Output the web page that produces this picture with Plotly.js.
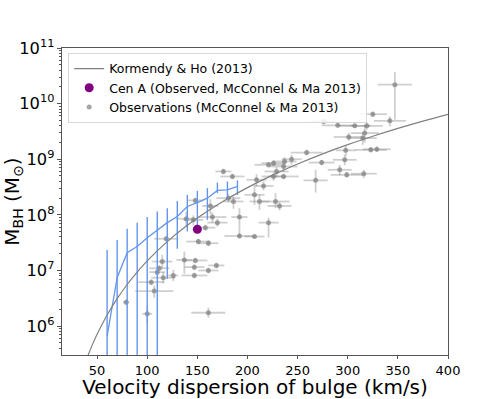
<!DOCTYPE html>
<html>
<head>
<meta charset="utf-8">
<script src="https://cdn.plot.ly/plotly-3.0.1.min.js"></script>
<style>
  html, body { margin: 0; padding: 0; background: #fff; }
  #myPlot { width: 498px; height: 399px; }
</style>
</head>
<body>
<div id="myPlot"></div>
<script>
// Kormendy & Ho (2013) relation
var khSigma = [40, 45, 50, 60, 70, 80, 90, 100, 120, 140, 160, 180, 200, 225, 250, 275, 300, 325, 350, 375, 400];
var khMass  = [2.69e5, 4.50e5, 7.13e5, 1.58e6, 3.11e6, 5.59e6, 9.35e6, 1.49e7, 3.30e7, 6.48e7, 1.16e8,
               1.95e8, 3.09e8, 5.18e8, 8.21e8, 1.25e9, 1.83e9, 2.59e9, 3.58e9, 4.85e9, 6.43e9];

// blue binned line with vertical error bars (log10 of mass)
var blueSigma = [60, 70, 80, 90, 100, 110, 120, 130, 140, 150, 160, 170, 180, 190];
var blueLogM  = [5.82, 6.87, 7.32, 7.43, 7.59, 7.73, 7.86, 7.97, 8.15, 8.22, 8.30, 8.44, 8.45, 8.51];
var blueLogHi = [7.37, 7.55, 7.75, 7.86, 7.96, 8.06, 8.12, 8.25, 8.36, 8.43, 8.48, 8.58, 8.60, 8.62];
var blueLogLo = [3, 3, 3, 3, 3, 3, 6.85, 7.39, 7.70, 7.72, 7.91, 8.39, 8.30, 8.36];

// Cen A
var cenSigma = [150];
var cenMass = [5.5e7];

// observations (McConnel & Ma 2013)
var obsSigma    = [347, 325, 342, 276, 290, 307, 319, 317, 301, 315, 323, 329, 298, 259, 297, 274, 244, 237, 226, 236,
                   229, 236, 226, 292, 299, 316, 268, 228, 232, 185, 176, 209, 216, 221, 207, 212, 181, 186, 148, 163,
                   165, 170, 139, 146, 192, 192, 221, 207, 119, 151, 161, 137, 148, 147, 169, 161, 147, 115, 112, 110,
                   116, 126, 104, 107, 79, 100, 161, 158];
var obsSigmaErr = [17, 14, 16, 13, 16, 16, 16, 14, 15, 14, 16, 14, 10, 16, 12, 13, 10, 12, 12, 14,
                   12, 15, 12, 12, 16, 13, 12, 14, 12, 12, 8, 10, 10, 14, 10, 10, 12, 10, 8, 8,
                   14, 10, 10, 10, 8, 15, 10, 10, 12, 12, 10, 8, 12, 10, 8, 10, 13, 10, 10, 8,
                   12, 5, 13, 19, 3, 5, 17, 10];
var obsLogM     = [10.34, 9.81, 9.69, 9.68, 9.61, 9.60, 9.60, 9.47, 9.40, 9.38, 9.17, 9.18, 9.16, 9.12, 8.99, 8.94, 9.00, 8.96, 8.93, 8.87,
                   8.78, 8.69, 8.69, 8.81, 8.72, 8.74, 8.62, 8.24, 8.16, 8.69, 8.78, 8.63, 8.52, 8.90, 8.36, 8.24, 8.30, 8.24, 8.26, 8.16,
                   7.96, 7.86, 7.93, 7.91, 7.96, 7.62, 7.86, 7.61, 7.57, 7.52, 7.49, 7.19, 7.18, 7.06, 7.09, 7.00, 6.91, 7.16, 7.04, 6.97,
                   6.87, 6.91, 6.79, 6.63, 6.43, 6.22, 6.24, 7.77];
var obsUpDex    = [0.23, 0.05, 0.08, 0.05, 0.04, 0.04, 0.07, 0.15, 0.07, 0.10, 0.05, 0.05, 0.08, 0.05, 0.09, 0.05, 0.08, 0.08, 0.05, 0.08,
                   0.08, 0.05, 0.07, 0.09, 0.05, 0.07, 0.19, 0.15, 0.07, 0.05, 0.05, 0.10, 0.08, 0.05, 0.15, 0.12, 0.07, 0.10, 0.05, 0.12,
                   0.08, 0.07, 0.12, 0.08, 0.16, 0.04, 0.09, 0.04, 0.05, 0.05, 0.05, 0.15, 0.05, 0.05, 0.05, 0.05, 0.05, 0.12, 0.05, 0.05,
                   0.10, 0.10, 0.05, 0.10, 0.05, 0.15, 0.09, 0.05];
var obsDnDex    = [0.63, 0.05, 0.10, 0.05, 0.04, 0.04, 0.07, 0.17, 0.07, 0.12, 0.05, 0.05, 0.10, 0.05, 0.10, 0.05, 0.10, 0.10, 0.05, 0.10,
                   0.10, 0.05, 0.08, 0.10, 0.05, 0.08, 0.22, 0.12, 0.08, 0.05, 0.05, 0.12, 0.08, 0.05, 0.18, 0.15, 0.07, 0.13, 0.05, 0.15,
                   0.10, 0.07, 0.15, 0.10, 0.35, 0.04, 0.27, 0.04, 0.05, 0.05, 0.05, 0.25, 0.05, 0.05, 0.05, 0.05, 0.05, 0.12, 0.05, 0.05,
                   0.10, 0.10, 0.05, 0.12, 0.05, 0.15, 0.09, 0.05];

function pow10(a){ return a.map(function(v){ return Math.pow(10, v); }); }

var blueM = pow10(blueLogM);
var blueUp = blueLogHi.map(function(v, i){ return Math.pow(10, v) - blueM[i]; });
var blueDn = blueLogLo.map(function(v, i){ return blueM[i] - Math.pow(10, v); });

var obsM = pow10(obsLogM);
var obsUp = obsUpDex.map(function(v, i){ return obsM[i] * (Math.pow(10, v) - 1); });
var obsDn = obsDnDex.map(function(v, i){ return obsM[i] * (1 - Math.pow(10, -v)); });

var data = [
  {
    x: obsSigma, y: obsM,
    name: "Observations (McConnel & Ma 2013)",
    type: "scatter", mode: "markers",
    legendrank: 3,
    marker: { color: "rgba(128,128,128,0.7)", size: 5 },
    error_x: { type: "data", array: obsSigmaErr, color: "rgba(128,128,128,0.38)", thickness: 1.8, width: 0 },
    error_y: { type: "data", symmetric: false, array: obsUp, arrayminus: obsDn,
               color: "rgba(128,128,128,0.38)", thickness: 1.8, width: 0 }
  },
  {
    x: blueSigma, y: blueM,
    type: "scatter", mode: "lines",
    showlegend: false,
    line: { color: "#6495ed", width: 1.3 },
    error_y: { type: "data", symmetric: false, array: blueUp, arrayminus: blueDn,
               color: "#6495ed", thickness: 1.4, width: 0 }
  },
  {
    x: khSigma, y: khMass,
    name: "Kormendy & Ho (2013)",
    type: "scatter", mode: "lines",
    legendrank: 1,
    line: { color: "#808080", width: 1.2, shape: "spline" }
  },
  {
    x: cenSigma, y: cenMass,
    name: "Cen A (Observed, McConnel & Ma 2013)",
    type: "scatter", mode: "markers",
    legendrank: 2,
    marker: { color: "#800080", size: 9 }
  }
];

var layout = {
  width: 498,
  height: 399,
  margin: { l: 62, r: 50, t: 48, b: 44 },
  paper_bgcolor: "#fff",
  plot_bgcolor: "#fff",
  font: { family: "DejaVu Sans", color: "#000", size: 13 },
  showlegend: true,
  legend: {
    x: 0.016, y: 0.984, xanchor: "left", yanchor: "top",
    bgcolor: "rgba(255,255,255,0.85)",
    bordercolor: "#d8d8d8", borderwidth: 1,
    font: { size: 12.5 },
    traceorder: "normal"
  },
  xaxis: {
    range: [15, 400],
    tick0: 0, dtick: 50,
    ticks: "outside", ticklen: 3, tickcolor: "#555",
    showline: true, mirror: true, linecolor: "#555", linewidth: 1,
    showgrid: false, zeroline: false,
    tickfont: { size: 13 },
    title: { text: "Velocity dispersion of bulge (km/s)", font: { size: 20 }, standoff: 9 }
  },
  yaxis: {
    type: "log",
    range: [5.48, 11],
    tick0: 0, dtick: 1,
    exponentformat: "power",
    ticks: "outside", ticklen: 4, tickcolor: "#555",
    minor: { ticks: "outside", ticklen: 2, tickcolor: "#555", dtick: "D1", showgrid: false },
    showline: true, mirror: true, linecolor: "#555", linewidth: 1,
    showgrid: false, zeroline: false,
    tickfont: { size: 13 },
    title: { text: "M<sub>BH</sub> (M<sub>⊙</sub>)", font: { size: 20 }, standoff: 4 }
  }
};

Plotly.newPlot("myPlot", data, layout, { displayModeBar: false, staticPlot: true });
</script>
</body>
</html>
